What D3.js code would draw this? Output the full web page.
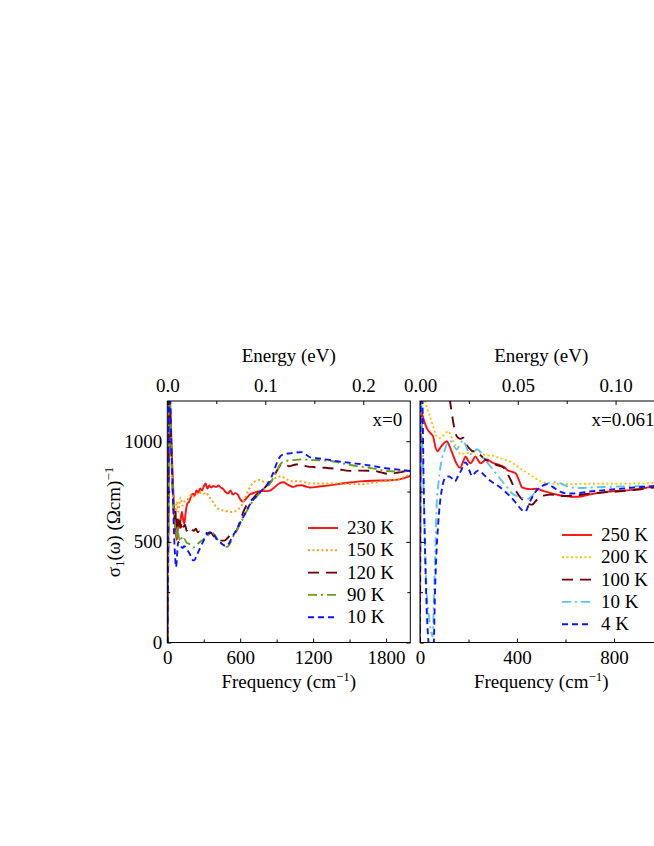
<!DOCTYPE html>
<html>
<head>
<meta charset="utf-8">
<script src="https://cdn.jsdelivr.net/npm/d3@7"></script>
<style>
body { margin: 0; background: #fff; }
svg { display: block; font-family: "Liberation Serif", "Times New Roman", serif; }
</style>
</head>
<body>
<script>
// x = 0 sample, frequency in cm^-1, sigma_1 in (Ohm cm)^-1
var left230 = [[2,0],[8,500],[15,1250],[22,1200],[30,1080],[40,900],[50,750],[60,620],[70,540],[78,510],[86,560],[94,610],[102,570],[110,610],[120,650],[130,610],[140,590],[152,650],[165,690],[180,700],[195,725],[210,740],[225,730],[240,755],[255,745],[270,765],[285,755],[300,775],[315,790],[330,765],[345,780],[360,770],[380,778],[400,772],[420,780],[440,770],[460,762],[480,748],[500,740],[520,755],[540,735],[560,742],[580,735],[600,712],[620,700],[645,712],[680,735],[720,745],[760,752],[800,752],[845,755],[880,770],[920,790],[955,796],[990,785],[1037,773],[1070,780],[1105,781],[1140,775],[1175,770],[1250,775],[1394,786],[1500,795],[1612,802],[1700,804],[1833,806],[1920,812],[2000,828]];
var left150 = [[2,0],[8,500],[15,1250],[22,1150],[30,1000],[40,850],[50,720],[60,680],[70,640],[80,700],[90,650],[100,690],[110,720],[125,680],[140,700],[160,705],[180,720],[200,735],[220,725],[240,740],[260,735],[280,748],[300,740],[320,745],[340,728],[360,712],[380,695],[400,675],[430,660],[460,656],[490,652],[520,648],[550,650],[580,660],[610,680],[640,720],[670,760],[700,790],[730,803],[760,808],[790,800],[820,796],[850,800],[880,815],[910,824],[940,826],[970,815],[1000,806],[1037,800],[1080,802],[1120,798],[1175,790],[1300,790],[1400,790],[1500,788],[1586,786],[1700,795],[1778,802],[1900,812],[2000,835]];
var left120 = [[2,0],[8,500],[14,1250],[22,1180],[30,1000],[40,820],[50,680],[58,600],[66,660],[74,560],[82,630],[90,580],[100,620],[110,570],[120,600],[132,575],[145,585],[160,555],[175,570],[190,572],[205,560],[220,555],[235,565],[250,548],[265,552],[280,545],[300,550],[320,545],[340,540],[360,545],[380,530],[410,515],[440,506],[470,506],[500,522],[530,540],[570,556],[600,605],[630,655],[660,690],[700,712],[740,738],[780,758],[820,780],[860,805],[890,840],[920,872],[945,888],[970,885],[1000,876],[1040,882],[1080,886],[1120,880],[1160,874],[1200,872],[1300,868],[1400,862],[1500,853],[1600,854],[1700,853],[1760,845],[1820,838],[1900,845],[2000,857]];
var left90 = [[2,0],[8,500],[14,1250],[22,1200],[30,1050],[40,850],[50,700],[58,620],[66,560],[74,520],[82,580],[90,540],[100,510],[110,530],[125,505],[140,515],[160,495],[180,490],[200,478],[215,472],[230,480],[250,490],[270,500],[290,508],[310,520],[330,530],[350,540],[370,545],[390,535],[410,515],[430,500],[450,490],[470,480],[490,475],[510,485],[530,510],[550,535],[570,555],[600,590],[630,625],[660,660],[690,690],[720,715],[750,735],[780,755],[810,770],[840,785],[870,815],[900,850],[930,885],[960,900],[1010,905],[1065,908],[1120,910],[1200,906],[1285,905],[1380,898],[1476,885],[1570,876],[1668,868],[1750,858],[1805,852],[1887,850],[2000,852]];
var left10 = [[2,0],[8,600],[13,1250],[22,1250],[30,1050],[40,850],[50,650],[58,500],[65,420],[72,374],[80,430],[90,500],[100,490],[110,480],[125,470],[140,478],[155,470],[170,455],[185,440],[200,420],[212,408],[225,410],[240,430],[255,450],[270,470],[290,495],[310,520],[330,540],[350,548],[370,545],[390,530],[410,510],[430,500],[450,490],[470,482],[490,480],[510,495],[530,520],[550,540],[570,560],[600,595],[630,630],[660,665],[690,695],[720,718],[760,745],[800,770],[840,800],[870,840],[900,890],[930,925],[960,935],[1010,940],[1060,944],[1106,946],[1140,935],[1175,920],[1250,914],[1300,910],[1394,901],[1500,893],[1612,885],[1700,876],[1800,866],[1887,860],[2000,852]];

// x = 0.061 sample
var right250 = [[0,0],[3,1150],[10,1130],[20,1090],[30,1060],[45,1038],[55,1020],[65,965],[72,950],[82,965],[95,985],[110,1000],[122,975],[135,935],[150,890],[165,868],[178,900],[188,925],[198,905],[208,890],[218,905],[228,925],[240,905],[250,890],[262,900],[275,910],[290,900],[305,890],[320,885],[335,878],[350,870],[362,855],[375,850],[388,845],[398,835],[410,800],[420,772],[435,765],[455,762],[480,764],[510,752],[540,742],[570,733],[600,728],[635,724],[670,727],[710,738],[750,746],[800,752],[850,756],[900,762],[950,772],[1000,780]];
var right200 = [[0,0],[2,1300],[10,1300],[20,1210],[30,1160],[42,1120],[55,1070],[68,1025],[80,1015],[92,1025],[105,1040],[118,1050],[130,1020],[142,990],[155,955],[168,935],[182,940],[198,942],[215,945],[230,955],[245,950],[260,935],[280,930],[300,928],[320,920],[345,910],[370,900],[395,880],[420,860],[445,840],[470,820],[500,800],[530,792],[560,788],[600,786],[650,788],[700,789],[760,789],[820,789],[880,790],[940,791],[1000,792]];
var right100 = [[0,0],[3,1300],[112,1300],[124,1198],[135,1110],[146,1040],[158,1016],[168,1012],[178,1018],[190,985],[205,962],[220,950],[235,950],[250,930],[268,910],[285,898],[302,890],[320,880],[344,870],[360,840],[375,805],[390,765],[405,735],[420,712],[435,697],[450,688],[462,685],[475,700],[490,718],[510,730],[540,735],[570,730],[600,728],[640,731],[680,737],[720,742],[760,746],[800,749],[850,754],[900,760],[950,768],[1000,775]];
var right10 = [[0,0],[3,1300],[10,1000],[18,600],[27,260],[35,150],[45,60],[52,30],[58,250],[63,450],[69,690],[76,790],[84,870],[92,920],[103,960],[115,995],[128,1000],[140,975],[152,960],[165,985],[178,1005],[190,975],[205,935],[220,945],[235,960],[250,945],[265,910],[280,890],[300,860],[320,830],[340,800],[360,770],[380,740],[400,728],[420,720],[440,714],[455,720],[470,740],[490,765],[510,780],[530,792],[550,797],[570,795],[590,785],[620,772],[660,768],[700,770],[760,773],[820,775],[880,776],[940,777],[1000,778]];
var right4 = [[0,0],[3,1300],[8,1300],[15,800],[22,400],[30,100],[38,-20],[48,-40],[56,-20],[62,259],[68,450],[75,590],[82,690],[89,753],[97,800],[108,822],[120,825],[132,815],[144,800],[158,830],[172,860],[185,895],[195,885],[205,850],[215,827],[228,845],[241,855],[258,840],[275,819],[300,795],[330,771],[355,745],[375,722],[398,690],[415,665],[430,650],[440,660],[450,690],[467,731],[480,755],[495,770],[510,782],[522,786],[535,782],[550,771],[565,758],[580,748],[610,740],[650,742],[700,750],[760,757],[820,763],[880,770],[940,775],[1000,782]];

var leftLabels = ["230 K", "150 K", "120 K", "90 K", "10 K"];
var rightLabels = ["250 K", "200 K", "100 K", "10 K", "4 K"];

var freqTicksLeft = [0, 600, 1200, 1800];
var freqMinorLeft = [300, 900, 1500];
var freqTicksRight = [0, 400, 800];
var freqMinorRight = [200, 600, 1000];
var eTicksLeft = [0, 0.1, 0.2];
var eMinorLeft = [0.05, 0.15];
var eTicksRight = [0, 0.05, 0.10];
var eMinorRight = [0.025, 0.075];
var sigmaTicks = [0, 500, 1000];
var sigmaMinor = [250, 750];

var CM_PER_EV = 8065.54;
var YTOP = 401, YBOT = 642.5;
var FS = "19px";

var svg = d3.select("body").append("svg").attr("width", 654).attr("height", 846);

var panels = [
  { id: "a", x0: 167.3, x1: 410.3, xmax: 2000, ticks: freqTicksLeft, minor: freqMinorLeft,
    eTicks: eTicksLeft, eMinor: eMinorLeft, eFmt: ".1f", yLabels: true, tag: "x=0",
    series: [left230, left150, left120, left90, left10], labels: leftLabels,
    colors: ["#ff1010", "#ffa010", "#6a0000", "#6a9e20", "#0a14ff"],
    dashes: [null, "2,2.5", "11,7", "9,4,2,4", "6,4"],
    legX: 308, legY: 528 },
  { id: "b", x0: 420, x1: 662.5, xmax: 1000, ticks: freqTicksRight, minor: freqMinorRight,
    eTicks: eTicksRight, eMinor: eMinorRight, eFmt: ".2f", yLabels: false, tag: "x=0.061",
    series: [right250, right200, right100, right10, right4], labels: rightLabels,
    colors: ["#ff1010", "#ffc400", "#6a0000", "#5cc4f2", "#0a14ff"],
    dashes: [null, "2,2.5", "11,7", "9,4,2,4", "6,4"],
    legX: 562, legY: 535 }
];

var y = d3.scaleLinear().domain([0, 1200]).range([YBOT, YTOP]);

panels.forEach(drawPanel);

function styleAxis(g) {
  g.select(".domain").remove();
  g.selectAll(".tick line").attr("stroke", "#000").attr("stroke-width", 1);
  g.selectAll(".tick text").attr("fill", "#000").style("font-size", FS).style("font-family", "Liberation Serif, serif");
}

function drawPanel(p) {
  var x = d3.scaleLinear().domain([0, p.xmax]).range([p.x0, p.x1]);
  var e = d3.scaleLinear().domain([0, p.xmax / CM_PER_EV]).range([p.x0, p.x1]);

  svg.append("clipPath").attr("id", "clip-" + p.id).append("rect")
    .attr("x", p.x0).attr("y", YTOP).attr("width", p.x1 - p.x0).attr("height", YBOT - YTOP);

  var line = d3.line().x(function (d) { return x(d[0]); }).y(function (d) { return y(d[1]); })
    .curve(d3.curveMonotoneX);

  var g = svg.append("g").attr("clip-path", "url(#clip-" + p.id + ")");
  p.series.forEach(function (s, i) {
    g.append("path").datum(s).attr("d", line).attr("fill", "none")
      .attr("stroke", p.colors[i]).attr("stroke-width", 1.9)
      .attr("stroke-dasharray", p.dashes[i]);
  });

  // bottom axis
  svg.append("g").attr("transform", "translate(0," + YBOT + ")")
    .call(d3.axisBottom(x).tickValues(p.ticks).tickSize(-4).tickPadding(8).tickFormat(d3.format("d"))).call(styleAxis);
  svg.append("g").attr("transform", "translate(0," + YBOT + ")")
    .call(d3.axisBottom(x).tickValues(p.minor.filter(function (v) { return v < p.xmax; })).tickSize(-3).tickFormat("")).call(styleAxis);

  // top axis (energy)
  svg.append("g").attr("transform", "translate(0," + YTOP + ")")
    .call(d3.axisTop(e).tickValues(p.eTicks).tickSize(-4).tickPadding(9).tickFormat(d3.format(p.eFmt))).call(styleAxis);
  svg.append("g").attr("transform", "translate(0," + YTOP + ")")
    .call(d3.axisTop(e).tickValues(p.eMinor).tickSize(-3).tickFormat("")).call(styleAxis);

  // left / right axes
  svg.append("g").attr("transform", "translate(" + p.x0 + ",0)")
    .call(d3.axisLeft(y).tickValues(sigmaTicks).tickSize(-4).tickPadding(5).tickFormat(p.yLabels ? d3.format("d") : "")).call(styleAxis);
  svg.append("g").attr("transform", "translate(" + p.x0 + ",0)")
    .call(d3.axisLeft(y).tickValues(sigmaMinor).tickSize(-3).tickFormat("")).call(styleAxis);
  svg.append("g").attr("transform", "translate(" + p.x1 + ",0)")
    .call(d3.axisRight(y).tickValues(sigmaTicks).tickSize(-4).tickFormat("")).call(styleAxis);
  svg.append("g").attr("transform", "translate(" + p.x1 + ",0)")
    .call(d3.axisRight(y).tickValues(sigmaMinor).tickSize(-3).tickFormat("")).call(styleAxis);

  // frame
  svg.append("rect").attr("x", p.x0).attr("y", YTOP).attr("width", p.x1 - p.x0).attr("height", YBOT - YTOP)
    .attr("fill", "none").attr("stroke", "#000").attr("stroke-width", 1);

  var cx = (p.x0 + p.x1) / 2;
  svg.append("text").attr("x", cx).attr("y", 362).attr("text-anchor", "middle")
    .style("font-size", FS).text("Energy (eV)");

  var fl = svg.append("text").attr("x", cx).attr("y", 688).attr("text-anchor", "middle").style("font-size", FS);
  fl.append("tspan").text("Frequency (cm");
  fl.append("tspan").attr("dy", -7).style("font-size", "13px").text("\u22121");
  fl.append("tspan").attr("dy", 7).text(")");

  svg.append("text").attr("x", p.x1 - 8).attr("y", 426).attr("text-anchor", "end")
    .style("font-size", FS).text(p.tag);

  // legend
  var leg = svg.append("g").attr("transform", "translate(" + p.legX + "," + p.legY + ")");
  p.labels.forEach(function (lab, i) {
    var row = leg.append("g").attr("transform", "translate(0," + (i * 22.3) + ")");
    row.append("line").attr("x1", 0).attr("x2", 30).attr("y1", 0).attr("y2", 0)
      .attr("stroke", p.colors[i]).attr("stroke-width", 1.9).attr("stroke-dasharray", p.dashes[i]);
    row.append("text").attr("x", 39).attr("y", 6).style("font-size", FS).text(lab);
  });
}

// y axis title
var yl = svg.append("text").attr("transform", "translate(120,522) rotate(-90)")
  .attr("text-anchor", "middle").style("font-size", FS);
yl.append("tspan").text("\u03c3");
yl.append("tspan").attr("dy", 4).style("font-size", "13px").text("1");
yl.append("tspan").attr("dy", -4).text("(\u03c9) (\u03a9cm)");
yl.append("tspan").attr("dy", -7).style("font-size", "13px").text("\u22121");
</script>
</body>
</html>
